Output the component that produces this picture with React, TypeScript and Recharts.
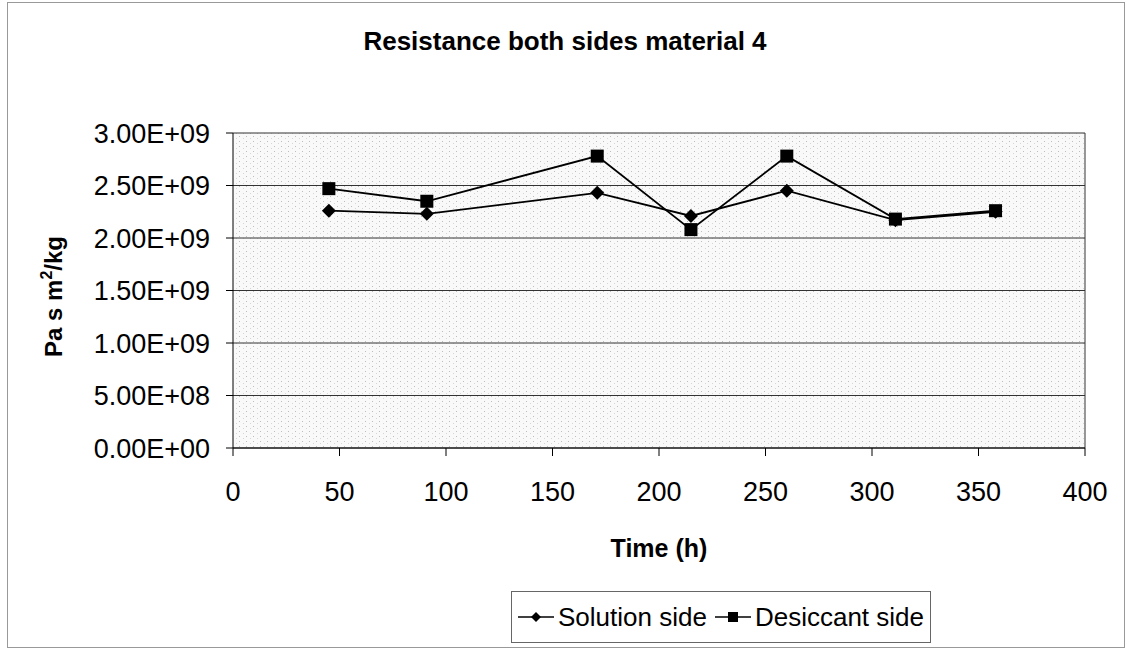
import React from "react";
import {
  LineChart,
  Line,
  XAxis,
  YAxis,
  CartesianGrid,
  Legend,
  ReferenceLine,
} from "recharts";

// Time (h) of each measurement
const times = [45, 91, 171, 215, 260, 311, 358];
// Pa s m2/kg
const solutionSide = [2.26e9, 2.23e9, 2.43e9, 2.21e9, 2.45e9, 2.17e9, 2.25e9];
const desiccantSide = [2.47e9, 2.35e9, 2.78e9, 2.08e9, 2.78e9, 2.18e9, 2.26e9];

const xTicks = [0, 50, 100, 150, 200, 250, 300, 350, 400];
const yTicks = [0, 5e8, 1e9, 1.5e9, 2e9, 2.5e9, 3e9];

const seriesNames = ["Solution side", "Desiccant side"];

const FONT = "'Liberation Sans', Arial, sans-serif";

const data = times.map((t, i) => ({
  time: t,
  solution: solutionSide[i],
  desiccant: desiccantSide[i],
}));

// Excel-style "3.00E+09"
const sci = (v: number) => {
  const [m, e] = v.toExponential(2).split("e");
  const sign = e.startsWith("-") ? "-" : "+";
  const digits = e.replace(/[+-]/, "").padStart(2, "0");
  return `${m}E${sign}${digits}`;
};

const Diamond = (props: any) => {
  const { cx, cy } = props;
  if (cx == null || cy == null) return null;
  const r = 7;
  return (
    <path
      d={`M${cx},${cy - r}L${cx + r},${cy}L${cx},${cy + r}L${cx - r},${cy}Z`}
      fill="#000"
    />
  );
};

const Square = (props: any) => {
  const { cx, cy } = props;
  if (cx == null || cy == null) return null;
  const s = 13;
  return <rect x={cx - s / 2} y={cy - s / 2} width={s} height={s} fill="#000" />;
};

const LegendIcon = ({ kind }: { kind: string }) => (
  <svg width={36} height={16} style={{ marginRight: 4 }}>
    <line x1={0} y1={8} x2={36} y2={8} stroke="#000" strokeWidth={1.5} />
    {kind === "diamond" ? (
      <path d="M18,3L23,8L18,13L13,8Z" fill="#000" />
    ) : (
      <rect x={13} y={3} width={10} height={10} fill="#000" />
    )}
  </svg>
);

const renderLegend = () => (
  <div
    style={{
      boxSizing: "border-box",
      height: 52,
      width: 420,
      border: "1px solid #666",
      background: "#fff",
      display: "flex",
      alignItems: "center",
      justifyContent: "center",
      fontFamily: FONT,
      fontSize: 26,
      color: "#000",
    }}
  >
    <LegendIcon kind="diamond" />
    <span style={{ marginRight: 8 }}>{seriesNames[0]}</span>
    <LegendIcon kind="square" />
    <span>{seriesNames[1]}</span>
  </div>
);

export default function App() {
  return (
    <div
      style={{
        position: "absolute",
        left: 0,
        top: 0,
        width: 1127,
        height: 648,
        background: "#fff",
        fontFamily: FONT,
      }}
    >
      <div
        style={{
          position: "absolute",
          left: 7,
          top: 2,
          width: 1116,
          height: 644,
          border: "1px solid #999",
          pointerEvents: "none",
        }}
      />
      <div
        style={{
          position: "absolute",
          top: 26,
          left: 0,
          width: 1130,
          textAlign: "center",
          fontWeight: "bold",
          fontSize: 26,
          color: "#000",
        }}
      >
        Resistance both sides material 4
      </div>
      <LineChart
        width={1127}
        height={648}
        data={data}
        margin={{ top: 133, right: 42, left: 0, bottom: 5 }}
      >
        <defs>
          <pattern id="stipple" width="7" height="5" patternUnits="userSpaceOnUse">
            <rect width="7" height="5" fill="#f9f9f9" />
            <rect x="1" y="1" width="1" height="1" fill="#bdbdbd" />
            <rect x="5" y="3" width="1" height="1" fill="#d6d6d6" />
          </pattern>
        </defs>
        <CartesianGrid
          vertical={false}
          stroke="#333"
          strokeWidth={1}
          fill="url(#stipple)"
          fillOpacity={1}
        />
        <ReferenceLine x={400} stroke="#333" />
        <XAxis
          dataKey="time"
          type="number"
          domain={[0, 400]}
          ticks={xTicks}
          height={143}
          tickSize={8}
          tickMargin={26}
          stroke="#000"
          tick={{ fill: "#000", fontSize: 27, fontFamily: FONT }}
          label={{
            content: (p: any) => {
              const vb = p.viewBox;
              return (
                <text
                  x={vb.x + vb.width / 2}
                  y={557}
                  textAnchor="middle"
                  fontFamily={FONT}
                  fontWeight="bold"
                  fontSize={25}
                  fill="#000"
                >
                  Time (h)
                </text>
              );
            },
          }}
        />
        <YAxis
          type="number"
          domain={[0, 3e9]}
          ticks={yTicks}
          width={233}
          tickSize={7}
          tickMargin={16}
          stroke="#000"
          tickFormatter={sci}
          tick={{ fill: "#000", fontSize: 27, fontFamily: FONT }}
          label={{
            content: (p: any) => {
              const vb = p.viewBox;
              const cy = vb.y + vb.height / 2 + 6;
              return (
                <text
                  x={62}
                  y={cy}
                  transform={`rotate(-90, 62, ${cy})`}
                  textAnchor="middle"
                  fontFamily={FONT}
                  fontWeight="bold"
                  fontSize={24}
                  fill="#000"
                >
                  Pa s m
                  <tspan fontSize={16} dy={-10}>
                    2
                  </tspan>
                  <tspan dy={10}>/kg</tspan>
                </text>
              );
            },
          }}
        />
        <Legend
          verticalAlign="bottom"
          content={renderLegend}
          wrapperStyle={{ left: 511, width: 420, bottom: 5, height: 52 }}
        />
        <Line
          dataKey="solution"
          name={seriesNames[0]}
          stroke="#000"
          strokeWidth={1.8}
          dot={<Diamond />}
          activeDot={false}
          isAnimationActive={false}
        />
        <Line
          dataKey="desiccant"
          name={seriesNames[1]}
          stroke="#000"
          strokeWidth={1.8}
          dot={<Square />}
          activeDot={false}
          isAnimationActive={false}
        />
      </LineChart>
    </div>
  );
}
